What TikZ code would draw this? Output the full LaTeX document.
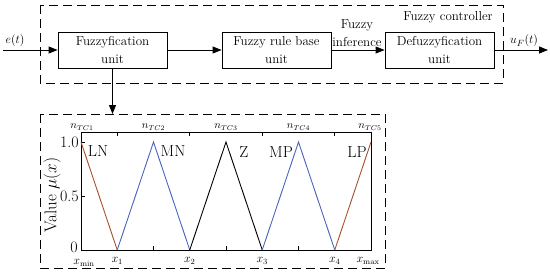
\documentclass[tikz,border=0pt]{standalone}
\usetikzlibrary{arrows.meta}
\definecolor{lnred}{HTML}{A8502E}
\definecolor{mnblue}{HTML}{4A62C0}
\begin{document}
\begin{tikzpicture}[x=1pt,y=-1pt, font=\fontsize{13}{18}\selectfont,
 blk/.style={draw, line width=0.8pt, minimum width=109pt, minimum height=36pt, align=center, inner sep=0pt},
 dbox/.style={draw, line width=0.9pt, dash pattern=on 9pt off 5pt},
 arr/.style={-{Triangle[length=9pt,width=7pt]}, line width=0.8pt},
 lbl/.style={inner sep=0pt},
 plbl/.style={inner sep=0pt, font=\fontsize{16}{18}\selectfont},
 axlbl/.style={inner sep=0pt, font=\fontsize{12}{13}\selectfont},
 toplbl/.style={inner sep=0pt, font=\fontsize{10.5}{11}\selectfont},
 crv/.style={line width=0.9pt}]
\useasboundingbox (0,0) rectangle (550,273);
% controller
\draw[dbox] (40,5) rectangle (503,83);
\node[blk] (fu) at (112.5,50) {Fuzzyfication\\unit};
\node[blk] (rb) at (276.5,50) {Fuzzy rule base\\unit};
\node[blk] (de) at (439.5,50) {Defuzzyfication\\unit};
\coordinate (in) at (3,50);
\coordinate (out) at (548,50);
\draw[arr] (in) -- (fu.west);
\draw[arr] (fu.east) -- (rb.west);
\draw[arr] (rb.east) -- (de.west);
\draw[arr] (de.east) -- (out);
\node[lbl] (et) at (15,40) {$e(t)$};
\node[lbl] (uf) at (524,41) {$u_F(t)$};
\node[lbl, align=center] (inf) at (357,33) {Fuzzy\\inference};
\node[lbl] (fc) at (448,17) {Fuzzy controller};
% lower box
\draw[dbox] (40,114) rectangle (385,268);
\coordinate (mf) at (112.5,114);
\draw[arr] (fu.south) -- (mf);
% plot frame
\draw[line width=0.8pt] (81,132) rectangle (371,250);
% ticks
\foreach \x in {117.25,189.75,262.25,334.75} \draw[line width=0.7pt] (\x,132) -- (\x,136);
\foreach \x in {153.5,226,298.5} \draw[line width=0.7pt] (\x,250) -- (\x,246);
\foreach \y in {142,196} \draw[line width=0.7pt] (81,\y) -- (85,\y);
% y labels
\node[plbl, anchor=east] at (79,142) {1.0};
\node[plbl, anchor=east] at (79,196) {0.5};
\node[plbl, anchor=east] at (78,247) {0};
\node[plbl, rotate=90, font=\fontsize{17}{18}\selectfont] at (52,195) {Value $\mu(x)$};
% bottom labels
\node[axlbl] at (84,263) {$x_{\min}$};
\node[axlbl] at (117.25,261) {$x_1$};
\node[axlbl] at (189.75,261) {$x_2$};
\node[axlbl] at (262.25,261) {$x_3$};
\node[axlbl] at (334.75,261) {$x_4$};
\node[axlbl] at (368,261) {$x_{\max}$};
% top labels
\node[toplbl] at (82,127) {$n_{TC1}$};
\node[toplbl] at (153.5,127) {$n_{TC2}$};
\node[toplbl] at (226,127) {$n_{TC3}$};
\node[toplbl] at (298.5,127) {$n_{TC4}$};
\node[toplbl] at (370,127) {$n_{TC5}$};
% curves
\draw[crv, lnred] (81,142) -- (117.25,250);
\draw[crv, mnblue] (117.25,250) -- (153.5,142) -- (189.75,250);
\draw[crv, black] (189.75,250) -- (226,142) -- (262.25,250);
\draw[crv, mnblue] (262.25,250) -- (298.5,142) -- (334.75,250);
\draw[crv, lnred] (334.75,250) -- (371,142);
% curve labels
\node[plbl] at (98,151) {LN};
\node[plbl] at (173,151) {MN};
\node[plbl] at (244,152) {Z};
\node[plbl] at (281,152) {MP};
\node[plbl] at (357,152) {LP};
\end{tikzpicture}
\end{document}
